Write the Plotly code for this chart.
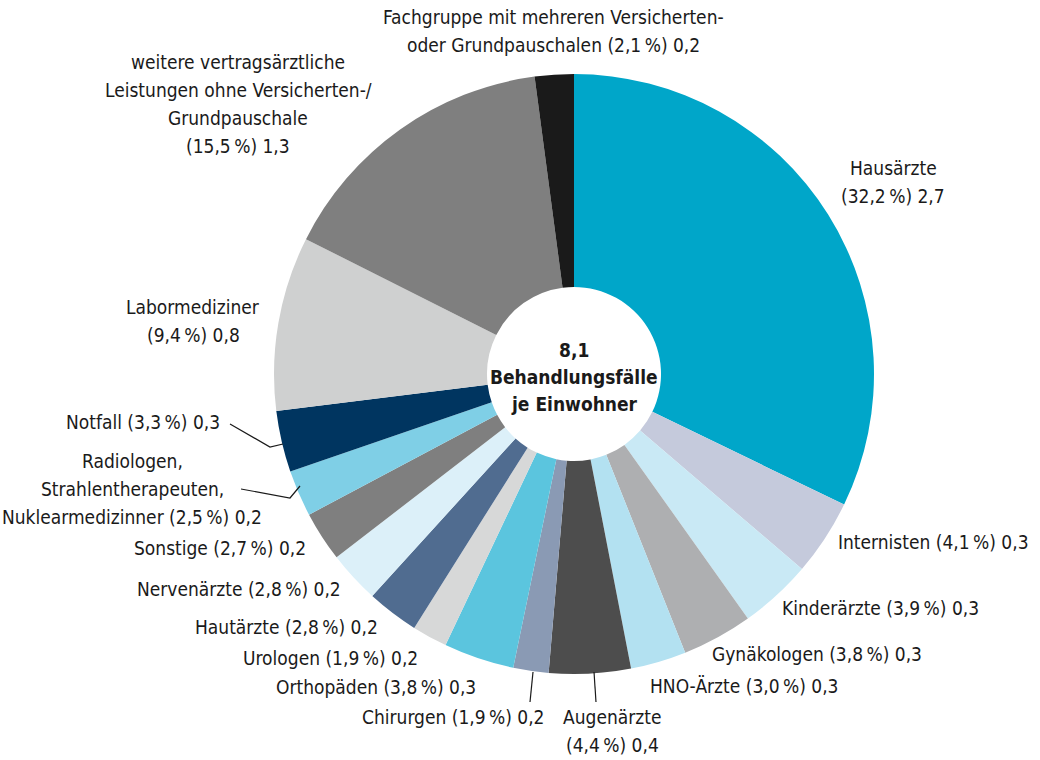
import plotly.graph_objects as go

# Behandlungsfälle je Einwohner nach Fachgruppen
categories = [
    "Hausärzte", "Internisten", "Kinderärzte", "Gynäkologen", "HNO-Ärzte",
    "Augenärzte", "Chirurgen", "Orthopäden", "Urologen", "Hautärzte",
    "Nervenärzte", "Sonstige",
    "Radiologen,\nStrahlentherapeuten,\nNuklearmedizinner",
    "Notfall", "Labormediziner",
    "weitere vertragsärztliche\nLeistungen ohne Versicherten-/\nGrundpauschale",
    "Fachgruppe mit mehreren Versicherten-\noder Grundpauschalen",
]
shares = [32.2, 4.1, 3.9, 3.8, 3.0, 4.4, 1.9, 3.8, 1.9, 2.8, 2.8, 2.7, 2.5, 3.3, 9.4, 15.5, 2.1]
cases = [2.7, 0.3, 0.3, 0.3, 0.3, 0.4, 0.2, 0.3, 0.2, 0.2, 0.2, 0.2, 0.2, 0.3, 0.8, 1.3, 0.2]
total_cases = 8.1
center_lines = ["Behandlungsfälle", "je Einwohner"]

colors = [
    "#00a6c9", "#c5cadc", "#c9e9f5", "#aeafb1", "#b3e1f1",
    "#4d4d4d", "#8a9ab4", "#5bc5de", "#d7d8d8", "#506c90",
    "#dcf0f9", "#7f7f7f", "#7fcfe6", "#003560", "#cfd0d0",
    "#7f7f7f", "#1a1a1a",
]

W, H = 1040, 760
FONT = "Liberation Sans Narrow, DejaVu Sans Condensed, Roboto Condensed, sans-serif"
TXT = "#1a1a1a"
LINE = 28


def px(x):
    return x / W


def py(y):
    return 1 - y / H


def num(v):
    return f"{v:.1f}".replace(".", ",")


# label placement: (x, y of first line, anchor, numbers on own line)
placement = [
    (893, 168, "center", True),
    (1031, 542, "right", False),
    (981, 608, "right", False),
    (924, 654, "right", False),
    (840, 686, "right", False),
    (612, 717, "center", True),
    (547, 717, "right", False),
    (478, 687, "right", False),
    (420, 658, "right", False),
    (380, 627, "right", False),
    (343, 589, "right", False),
    (308, 548, "right", False),
    (132, 461, "center", False),
    (222, 422, "right", False),
    (193, 307, "center", True),
    (238, 62, "center", True),
    (553, 17, "center", False),
]

fig = go.Figure(go.Pie(
    values=shares,
    labels=[c.replace("\n", " ") for c in categories],
    marker=dict(colors=colors, line=dict(width=0)),
    sort=False,
    direction="clockwise",
    rotation=0,
    hole=0.29,
    textinfo="none",
    hoverinfo="label+value",
    domain=dict(x=[px(274), px(874)], y=[py(674), py(74)]),
    showlegend=False,
))

annotations = []
for name, share, val, (x, y, anchor, own_line) in zip(categories, shares, cases, placement):
    lines = name.split("\n")
    nums = f"({num(share)}\u202f%) {num(val)}"
    if own_line:
        lines.append(nums)
    else:
        lines[-1] = f"{lines[-1]} {nums}"
    for i, ln in enumerate(lines):
        annotations.append(dict(
            x=px(x), y=py(y + i * LINE), xref="paper", yref="paper",
            text=ln, showarrow=False, xanchor=anchor, yanchor="middle",
            font=dict(family=FONT, size=19, color=TXT),
        ))

for i, ln in enumerate([num(total_cases)] + center_lines):
    annotations.append(dict(
        x=px(574), y=py(350 + i * 27), xref="paper", yref="paper",
        text=f"<b>{ln}</b>", showarrow=False, xanchor="center", yanchor="middle",
        font=dict(family=FONT, size=19, color=TXT),
    ))

# leader lines for narrow slices
leaders = [
    [(230, 424), (270, 447), (283, 444)],
    [(241, 489), (290, 498), (300, 486)],
    [(533, 672), (530, 702)],
    [(594, 672), (596, 702)],
]
shapes = []
for pts in leaders:
    path = "M " + " L ".join(f"{px(a)},{py(b)}" for a, b in pts)
    shapes.append(dict(type="path", xref="paper", yref="paper", path=path,
                       line=dict(color=TXT, width=1.2)))

fig.update_layout(
    width=W, height=H,
    margin=dict(l=0, r=0, t=0, b=0),
    paper_bgcolor="white", plot_bgcolor="white",
    annotations=annotations, shapes=shapes,
    font=dict(family=FONT, color=TXT),
)

fig.write_html("out.html")
